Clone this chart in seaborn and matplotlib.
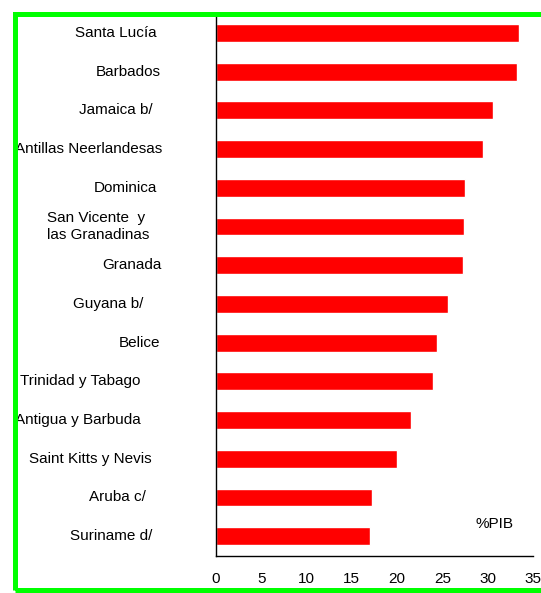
import matplotlib
matplotlib.use("Agg")
import matplotlib.pyplot as plt
import matplotlib.patches as patches
import seaborn as sns
import pandas as pd

# data
countries = [
    "Santa Lucía", "Barbados", "Jamaica b/", "Antillas Neerlandesas",
    "Dominica", "San Vicente  y\nlas Granadinas", "Granada", "Guyana b/",
    "Belice", "Trinidad y Tabago", "Antigua y Barbuda",
    "Saint Kitts y Nevis", "Aruba c/", "Suriname d/",
]
pib = [33.4, 33.2, 30.6, 29.5, 27.5, 27.4, 27.3, 25.6, 24.4, 24.0, 21.5, 20.0, 17.2, 17.0]
xticks = [0, 5, 10, 15, 20, 25, 30, 35]

# layout: horizontal centre of each category label, in pixels from the left
label_x_px = [116, 128, 116, 89, 125, 98, 132, 108, 140, 80, 78, 90, 117, 111]

df = pd.DataFrame({"pais": countries, "pib": pib})

sns.set_style("white")
plt.rcParams["font.family"] = ["Liberation Sans", "DejaVu Sans"]
plt.rcParams["text.color"] = "black"
plt.rcParams["xtick.color"] = "black"

W, H = 541, 593
fig = plt.figure(figsize=(W / 100, H / 100), dpi=100)
ax_left, ax_right = 216 / W, 533 / W
ax_top, ax_bottom = 1 - 13.6 / H, 1 - 555.5 / H
ax = fig.add_axes([ax_left, ax_bottom, ax_right - ax_left, ax_top - ax_bottom])

sns.barplot(data=df, y="pais", x="pib", orient="h", color="#FF0000",
            saturation=1, width=0.46, ax=ax)

ax.set_xlim(0, 35)
ax.set_xticks(xticks)
ax.set_xticklabels([str(t) for t in xticks], fontsize=11, color="black")
ax.set_xlabel("")
ax.set_ylabel("")
ax.set_yticklabels([])
ax.tick_params(axis="y", length=0)
ax.tick_params(axis="x", direction="out", length=5, width=1, color="black", pad=7)

for s in ["top", "right"]:
    ax.spines[s].set_visible(False)
for s in ["left", "bottom"]:
    ax.spines[s].set_color("black")
    ax.spines[s].set_linewidth(1)

axw = (ax_right - ax_left) * W
for i, (name, px) in enumerate(zip(countries, label_x_px)):
    ax.text((px - 216) / axw, i, name, transform=ax.get_yaxis_transform(),
            ha="center", va="center", fontsize=11, multialignment="left",
            color="black", clip_on=False)

ax.text(0.88, 0.058, "%PIB", transform=ax.transAxes, ha="center", va="center",
        fontsize=11, color="black")

# green frame around the chart
frame = patches.Rectangle((15.5 / W, 3 / H), 1.2, (590 - 14) / H,
                          transform=fig.transFigure, fill=False,
                          edgecolor="#00FF00", linewidth=3.6)
fig.patches.append(frame)

fig.savefig("out.png", dpi=100)
